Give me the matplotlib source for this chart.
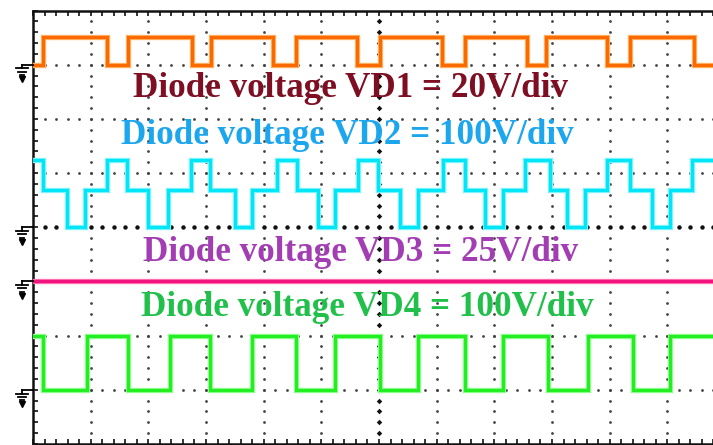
import matplotlib
matplotlib.use('Agg')
import matplotlib.pyplot as plt
import numpy as np

W, H = 713, 445

# ---- data (time in screen divisions, voltages in volts) ----
volts_per_div = [20, 100, 25, 100]
ground_div = [7.0, 4.0, 3.0, 1.0]

vd1_t = [0.00, 0.17, 1.28, 1.65, 2.76, 3.09, 4.16, 4.56, 5.62, 6.02, 7.09, 7.49,
         8.57, 8.90, 9.95, 10.35, 11.46, 12.00]
vd1_v = [0, 10.4, 0, 10.4, 0, 10.4, 0, 10.4, 0, 10.4, 0, 10.4, 0, 10.4, 0, 10.4, 0]

vd2_t = [0.00, 0.17, 0.59, 0.90, 1.28, 1.63, 1.99, 2.34, 2.74, 3.07, 3.50, 3.80,
         4.23, 4.58, 4.94, 5.24, 5.64, 5.98, 6.36, 6.68, 7.11, 7.49, 7.84, 8.15,
         8.53, 8.97, 9.26, 9.57, 9.95, 10.35, 10.73, 11.05, 11.43, 12.00]
vd2_v = [125, 68, 0, 68] * 8 + [125]

vd3_t = [0.00, 12.00]
vd3_v = [0]

vd4_t = [0.00, 0.17, 0.94, 1.65, 2.38, 3.07, 3.80, 4.56, 5.24, 6.02, 6.68, 7.49,
         8.15, 8.93, 9.62, 10.40, 11.05, 12.00]
vd4_v = [100, 0] * 8 + [100]

labels = ["Diode voltage VD1 = 20V/div", "Diode voltage VD2 = 100V/div",
          "Diode voltage VD3 = 25V/div", "Diode voltage VD4 = 100V/div"]
label_colors = ["#7E0F23", "#1CA6EE", "#A33DB3", "#20C04A"]
label_pos_px = [(133, 97), (121, 144), (143, 261), (141, 316)]

trace_core = ["#FA6A00", "#00E6F6", "#F0147E", "#22EE22"]
trace_halo = ["#FFB060", "#7FF4FF", "#FF70B0", "#8CFF8C"]

# ---- figure ----
fig = plt.figure(figsize=(W / 100, H / 100), dpi=100)
left_px, right_px, top_px, bot_px = 33, 725, 10.5, 444
ax = fig.add_axes([left_px / W, (H - bot_px) / H, (right_px - left_px) / W,
                   (bot_px - top_px) / H])
ax.set_xlim(0, 12)
ax.set_ylim(0, 8)

# grid dots
minor_y = np.arange(0.2, 8.0, 0.2)
minor_x = np.arange(0.2, 12.0, 0.2)
for k in range(1, 12):
    if k == 6:
        continue
    ax.plot(np.full_like(minor_y, k), minor_y, ls='none', marker='o', ms=2.0,
            mfc='#444444', mec='none', zorder=1)
for j in range(1, 8):
    if j == 4:
        continue
    ax.plot(minor_x, np.full_like(minor_x, j), ls='none', marker='o', ms=2.0,
            mfc='#444444', mec='none', zorder=1)
ax.plot(np.full_like(minor_y, 6), minor_y, ls='none', marker='D', ms=2.8,
        mfc='#111111', mec='none', zorder=1)
ax.plot(minor_x, np.full_like(minor_x, 4), ls='none', marker='o', ms=3.2,
        mfc='#111111', mec='none', zorder=1)

# traces
series = [(vd1_t, vd1_v), (vd2_t, vd2_v), (vd3_t, vd3_v), (vd4_t, vd4_v)]
for i, (t, v) in enumerate(series):
    y = np.array(list(v) + [v[-1]], dtype=float) / volts_per_div[i] + ground_div[i]
    ax.step(t, y, where='post', color=trace_halo[i], lw=3.8, zorder=3,
            solid_joinstyle='miter')
    ax.step(t, y, where='post', color=trace_core[i], lw=2.2, zorder=4,
            solid_joinstyle='miter')

# ground markers
gx = -0.19
for g in ground_div:
    kw = dict(color='black', lw=1.3, clip_on=False, zorder=5)
    ax.plot([gx, 0], [g, g], **kw)
    ax.plot([gx, gx], [g, g - 0.07], **kw)
    for dy, hw in [(0.07, 0.11), (0.13, 0.07), (0.19, 0.035)]:
        ax.plot([gx - hw, gx + hw], [g - dy, g - dy], **kw)
    ax.plot([gx], [g - 0.27], marker='v', ms=4, color='black', clip_on=False,
            zorder=5)

# border and ticks
for s in ['left', 'top', 'bottom', 'right']:
    ax.spines[s].set_linewidth(1.8)
    ax.spines[s].set_color('#111111')
ax.set_xticks(np.arange(0, 12.01, 0.2))
ax.set_yticks(np.arange(0, 8.01, 0.2))
ax.tick_params(axis='both', direction='in', length=3.5, width=1.2,
               labelleft=False, labelbottom=False, top=True, right=False,
               colors='#111111')

# labels
for txt, col, (px, py) in zip(labels, label_colors, label_pos_px):
    fig.text(px / W, 1 - py / H, txt, color=col, fontsize=25.3,
             family='Liberation Serif', fontweight='bold', ha='left',
             va='baseline', zorder=10)

fig.savefig('out.png', dpi=100, facecolor='white')
